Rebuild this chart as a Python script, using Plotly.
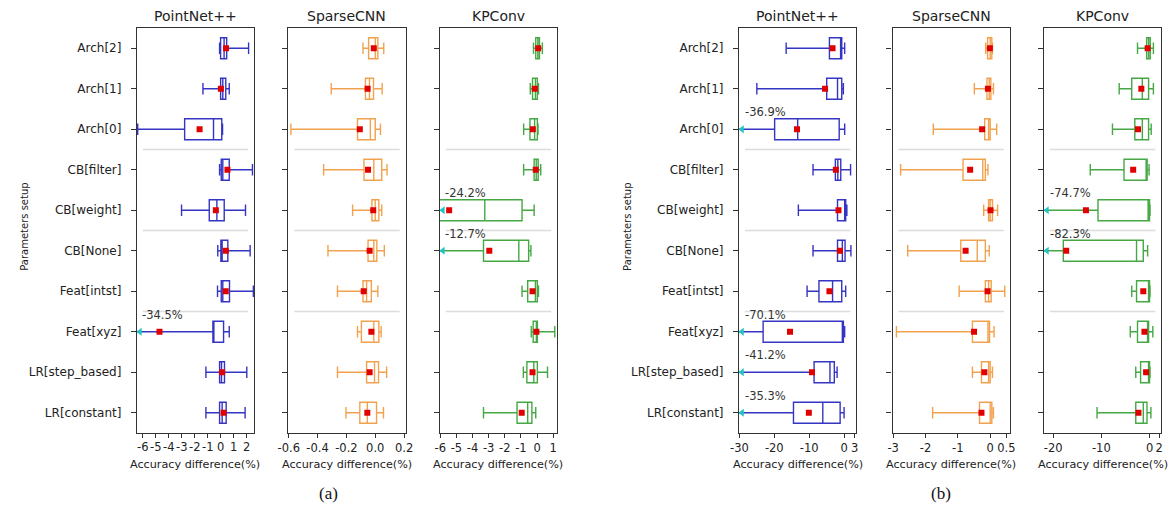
import plotly.graph_objects as go

# Parameter settings shown on every y axis (top to bottom)
categories = ["Arch[2]", "Arch[1]", "Arch[0]", "CB[filter]", "CB[weight]", "CB[None]",
              "Feat[intst]", "Feat[xyz]", "LR[step_based]", "LR[constant]"]
models = ["PointNet++", "SparseCNN", "KPConv"]

# ---- (a) accuracy differences (%) ----
a_pn_lo = [-0.05, -1.34, -6.4, -0.05, -3.0, -0.19, -0.21, -34.5, -1.11, -1.11]
a_pn_q1 = [0.03, 0.03, -2.76, 0.08, -0.85, 0.05, 0.08, -0.57, -0.05, -0.05]
a_pn_med = [0.3, 0.2, -0.52, 0.2, -0.26, 0.15, 0.2, -0.5, 0.1, 0.15]
a_pn_q3 = [0.5, 0.43, 0.12, 0.7, 0.31, 0.59, 0.72, 0.26, 0.33, 0.46]
a_pn_hi = [2.2, 0.7, 0.18, 2.5, 1.96, 2.32, 2.57, 0.7, 2.06, 1.93]
a_pn_mean = [0.45, 0.05, -1.6, 0.56, -0.34, 0.43, 0.43, -4.71, 0.15, 0.26]

a_sc_lo = [-0.085, -0.305, -0.585, -0.358, -0.157, -0.328, -0.262, -0.123, -0.262, -0.203]
a_sc_q1 = [-0.046, -0.068, -0.123, -0.078, -0.023, -0.05, -0.085, -0.096, -0.06, -0.107]
a_sc_med = [0.0, -0.04, -0.034, -0.01, 0.0, -0.01, -0.06, -0.01, -0.005, -0.055]
a_sc_q3 = [0.018, -0.012, 0.0, 0.045, 0.025, 0.011, -0.027, 0.025, 0.023, 0.009]
a_sc_hi = [0.059, 0.048, 0.036, 0.082, 0.045, 0.063, 0.018, 0.041, 0.079, 0.057]
a_sc_mean = [-0.01, -0.053, -0.107, -0.05, -0.014, -0.039, -0.08, -0.027, -0.039, -0.055]

a_kp_lo = [-0.22, -0.42, -0.83, -0.83, -24.2, -12.7, -0.93, -0.36, -0.85, -3.32]
a_kp_q1 = [-0.08, -0.28, -0.44, -0.18, -6.4, -3.32, -0.58, -0.24, -0.63, -1.24]
a_kp_med = [0.05, -0.1, -0.15, -0.05, -3.24, -1.13, -0.1, 0.0, -0.2, -0.58]
a_kp_q3 = [0.15, 0.02, 0.02, 0.07, -0.93, -0.52, 0.02, 0.02, 0.02, -0.32]
a_kp_hi = [0.33, 0.09, 0.06, 0.23, -0.18, -0.38, 0.09, 1.1, 0.65, -0.08]
a_kp_mean = [0.07, -0.14, -0.26, -0.08, -5.45, -2.96, -0.28, -0.04, -0.28, -0.95]

# ---- (b) accuracy differences (%) ----
b_pn_lo = [-16.6, -25.0, -36.9, -8.9, -13.1, -8.9, -10.6, -70.1, -41.2, -35.3]
b_pn_q1 = [-4.2, -4.98, -19.9, -2.5, -1.88, -1.88, -7.2, -23.2, -8.6, -14.5]
b_pn_med = [-1.0, -1.88, -13.3, -1.8, 0.2, -0.5, -3.3, -0.5, -4.05, -6.1]
b_pn_q3 = [-0.67, -0.67, -1.4, -0.95, 0.46, 0.28, -0.67, -0.2, -2.8, -1.13]
b_pn_hi = [0.17, -0.2, 0.17, 1.86, 0.8, 1.96, 0.46, 0.17, -2.0, 0.0]
b_pn_mean = [-3.3, -5.45, -13.5, -2.35, -1.6, -1.2, -4.2, -15.5, -9.2, -10.1]

b_sc_lo = [-0.14, -0.49, -1.76, -2.77, -0.2, -2.55, -0.96, -2.9, -0.55, -1.78]
b_sc_q1 = [-0.08, -0.1, -0.17, -0.84, -0.05, -0.91, -0.15, -0.55, -0.27, -0.33]
b_sc_med = [0.0, -0.03, -0.05, -0.23, 0.0, -0.4, -0.05, -0.07, -0.05, 0.0]
b_sc_q3 = [0.05, 0.02, 0.0, -0.15, 0.07, -0.15, 0.03, -0.02, 0.0, 0.05]
b_sc_hi = [0.07, 0.1, 0.2, -0.07, 0.23, -0.03, 0.45, 0.12, 0.07, 0.1]
b_sc_mean = [-0.01, -0.07, -0.25, -0.62, 0.01, -0.76, -0.08, -0.5, -0.18, -0.27]

b_kp_lo = [-2.5, -6.3, -7.7, -12.3, -74.7, -82.3, -3.7, -4.0, -2.86, -10.9]
b_kp_q1 = [-0.6, -3.7, -3.06, -5.3, -10.7, -17.9, -2.7, -2.5, -1.86, -2.86]
b_kp_med = [-0.2, -1.5, -1.5, -0.7, -0.3, -2.7, -0.1, -0.3, -0.2, -1.3]
b_kp_q3 = [0.14, -0.2, -0.2, -0.5, 0.0, -1.3, 0.0, -0.2, 0.0, -0.53]
b_kp_hi = [0.8, 0.8, 0.34, -0.1, 0.1, -0.4, 0.1, 0.68, 0.1, 0.28]
b_kp_mean = [-0.4, -1.7, -2.4, -3.4, -13.2, -17.3, -1.3, -1.06, -0.72, -2.3]

# x-axis ticks per panel
a_pn_ticks = [-6, -5, -4, -3, -2, -1, 0, 1, 2]
a_sc_ticks = [-0.6, -0.4, -0.2, 0.0, 0.2]
a_kp_ticks = [-6, -5, -4, -3, -2, -1, 0, 1]
b_pn_ticks = [-30, -20, -10, 0, 3]
b_sc_ticks = [-3, -2, -1, 0, 0.5]
b_kp_ticks = [-20, -10, 0, 2]

BLUE = "#3535c4"
ORANGE = "#f2a24e"
GREEN = "#45a845"
RED = "#e00000"
CYAN = "#1fc4c4"
FRAME = "#333333"
TEXT = "#222222"
FONT = "DejaVu Sans"
W, H = 1176, 508


def fx(px):
    return px / W


def fy(py):
    return 1 - py / H


Y_DOM = [fy(433), fy(28)]

panels = [
    dict(title=models[0], color=BLUE, dom=(128, 247), rng=[-6.46, 2.62], ticks=a_pn_ticks,
         fmt="{:g}", dense=True,
         stats=(a_pn_lo, a_pn_q1, a_pn_med, a_pn_q3, a_pn_hi, a_pn_mean)),
    dict(title=models[1], color=ORANGE, dom=(282, 401), rng=[-0.602, 0.21], ticks=a_sc_ticks,
         fmt="{:.1f}", dense=False,
         stats=(a_sc_lo, a_sc_q1, a_sc_med, a_sc_q3, a_sc_hi, a_sc_mean)),
    dict(title=models[2], color=GREEN, dom=(436, 555), rng=[-6.02, 1.24], ticks=a_kp_ticks,
         fmt="{:g}", dense=False,
         stats=(a_kp_lo, a_kp_q1, a_kp_med, a_kp_q3, a_kp_hi, a_kp_mean)),
    dict(title=models[0], color=BLUE, dom=(740, 859), rng=[-30.1, 3.45], ticks=b_pn_ticks,
         fmt="{:g}", dense=False,
         stats=(b_pn_lo, b_pn_q1, b_pn_med, b_pn_q3, b_pn_hi, b_pn_mean)),
    dict(title=models[1], color=ORANGE, dom=(896, 1015), rng=[-3.02, 0.6], ticks=b_sc_ticks,
         fmt="{:g}", dense=False,
         stats=(b_sc_lo, b_sc_q1, b_sc_med, b_sc_q3, b_sc_hi, b_sc_mean)),
    dict(title=models[2], color=GREEN, dom=(1050, 1169), rng=[-21.9, 2.4], ticks=b_kp_ticks,
         fmt="{:g}", dense=False,
         stats=(b_kp_lo, b_kp_q1, b_kp_med, b_kp_q3, b_kp_hi, b_kp_mean)),
]

positions = list(range(1, len(categories) + 1))

fig = go.Figure()
layout = dict(
    width=W, height=H, margin=dict(l=0, r=0, t=0, b=0),
    paper_bgcolor="white", plot_bgcolor="white", showlegend=False,
    font=dict(family=FONT, color=TEXT),
)
annotations = []
shapes = []

for i, p in enumerate(panels, start=1):
    suffix = "" if i == 1 else str(i)
    xa, ya = f"x{suffix}", f"y{suffix}"
    lo, q1, med, q3, hi, mean = p["stats"]
    fig.add_trace(go.Box(
        orientation="h", y=positions, q1=q1, median=med, q3=q3,
        lowerfence=lo, upperfence=hi, boxpoints=False,
        line=dict(color=p["color"], width=1.4), fillcolor="rgba(255,255,255,0)",
        width=0.52, whiskerwidth=0.55, xaxis=xa, yaxis=ya, hoverinfo="skip",
    ))
    fig.add_trace(go.Scatter(
        x=mean, y=positions, mode="markers", xaxis=xa, yaxis=ya,
        marker=dict(symbol="square", size=6, color=RED), hoverinfo="skip",
    ))
    # whiskers running past the axis limit: arrow at the edge and the true value
    xmin, xmax = p["rng"]
    clip_y = [pos for pos, v in zip(positions, lo) if v < xmin]
    if clip_y:
        arrow_x = xmin + 0.025 * (xmax - xmin)
        fig.add_trace(go.Scatter(
            x=[arrow_x] * len(clip_y), y=clip_y, mode="markers", xaxis=xa, yaxis=ya,
            marker=dict(symbol="triangle-left", size=7, color=CYAN), cliponaxis=False,
            hoverinfo="skip",
        ))
        for pos, v in zip(positions, lo):
            if v < xmin:
                annotations.append(dict(
                    x=0.03, xref=f"{xa} domain", y=pos - 0.42, yref=ya,
                    text=f"{v:.1f}%", showarrow=False, xanchor="left", yanchor="middle",
                    font=dict(size=11.5, family=FONT, color="#333333"),
                ))
    labels = [p["fmt"].format(t) for t in p["ticks"]]
    layout[f"xaxis{suffix}"] = dict(
        domain=[fx(p["dom"][0]), fx(p["dom"][1])], anchor=ya, range=p["rng"],
        tickmode="array", tickvals=p["ticks"],
        ticktext=[""] * len(labels) if p["dense"] else labels, tickangle=0,
        ticks="outside", ticklen=4, tickcolor=FRAME, showline=True, mirror=True,
        linecolor=FRAME, linewidth=1.2, showgrid=False, zeroline=False,
        tickfont=dict(size=11.5, family=FONT, color=TEXT),
    )
    if p["dense"]:
        # tightly packed tick labels, written directly under each tick
        for t, lab in zip(p["ticks"], labels):
            annotations.append(dict(
                x=t, xref=xa, y=fy(447), yref="paper", text=lab, showarrow=False,
                xanchor="center", yanchor="middle",
                font=dict(size=11.5, family=FONT, color=TEXT),
            ))
    layout[f"yaxis{suffix}"] = dict(
        domain=Y_DOM, anchor=xa, range=[10.5, 0.5],
        tickmode="array", tickvals=positions, ticktext=categories,
        showticklabels=(i in (1, 4)), ticklabelstandoff=7,
        ticks="outside", ticklen=5, tickcolor=FRAME, showline=True, mirror=True,
        linecolor=FRAME, linewidth=1.2, showgrid=False, zeroline=False,
        tickfont=dict(size=12, family=FONT, color=TEXT),
    )
    # light separators between parameter groups
    for sep in (3.5, 5.5, 7.5):
        shapes.append(dict(
            type="line", xref=f"{xa} domain", yref=ya, x0=0.05, x1=0.95, y0=sep, y1=sep,
            line=dict(color="#dcdcdc", width=1.5), layer="below",
        ))
    # panel title and x-axis title
    annotations.append(dict(
        x=0.5, xref=f"{xa} domain", y=fy(16), yref="paper", text=p["title"],
        showarrow=False, xanchor="center", yanchor="middle",
        font=dict(size=14, family=FONT, color=TEXT),
    ))
    annotations.append(dict(
        x=0.5, xref=f"{xa} domain", y=fy(464), yref="paper", text="Accuracy difference(%)",
        showarrow=False, xanchor="center", yanchor="middle",
        font=dict(size=11.2, family=FONT, color=TEXT),
    ))

for x_px in (13, 626):
    annotations.append(dict(
        x=fx(x_px), xref="paper", y=fy(227), yref="paper", text="Parameters setup",
        textangle=-90, showarrow=False, xanchor="center", yanchor="middle",
        font=dict(size=10, family=FONT, color=TEXT),
    ))

for label, x_px in (("(a)", 323), ("(b)", 945)):
    annotations.append(dict(
        x=fx(x_px), xref="paper", y=fy(493), yref="paper", text=label,
        showarrow=False, xanchor="center", yanchor="middle",
        font=dict(size=17, family="Liberation Serif", color="#111111"),
    ))

layout["annotations"] = annotations
layout["shapes"] = shapes
fig.update_layout(**layout)
fig.write_html("out.html")
